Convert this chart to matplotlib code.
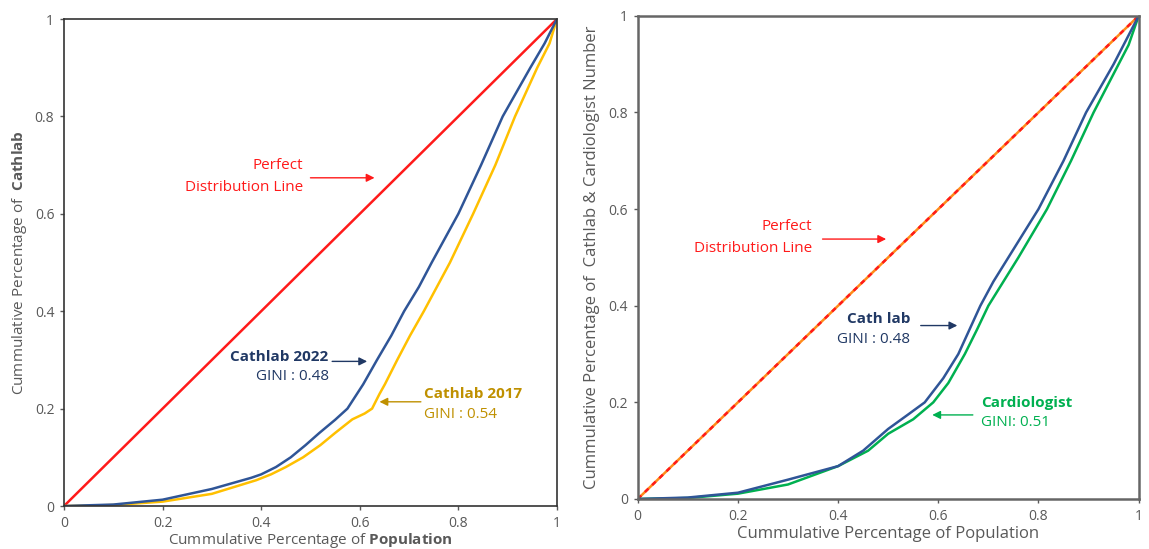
import matplotlib
matplotlib.use("Agg")
import matplotlib.pyplot as plt

plt.rcParams['font.family'] = ['Open Sans', 'DejaVu Sans']
plt.rcParams['mathtext.fontset'] = 'custom'
plt.rcParams['mathtext.bf'] = 'Open Sans:bold'
plt.rcParams['mathtext.rm'] = 'Open Sans'

# left panel: cathlab 2022 vs 2017
pop_22 = [0, 0.1, 0.2, 0.3, 0.38, 0.40, 0.43, 0.46, 0.49, 0.518, 0.55, 0.575, 0.607, 0.635, 0.664, 0.69, 0.72, 0.746, 0.80, 0.846, 0.89, 0.946, 0.975, 1.0]
lab_22 = [0, 0.003, 0.013, 0.035, 0.058, 0.065, 0.08, 0.10, 0.125, 0.15, 0.177, 0.20, 0.25, 0.30, 0.35, 0.40, 0.45, 0.50, 0.60, 0.70, 0.80, 0.90, 0.95, 1.0]
pop_17 = [0, 0.1, 0.2, 0.3, 0.39, 0.42, 0.45, 0.485, 0.52, 0.55, 0.585, 0.61, 0.625, 0.64, 0.651, 0.676, 0.702, 0.73, 0.783, 0.83, 0.875, 0.915, 0.96, 0.985, 1.0]
lab_17 = [0, 0.002, 0.009, 0.025, 0.053, 0.065, 0.08, 0.10, 0.125, 0.15, 0.178, 0.19, 0.20, 0.23, 0.25, 0.30, 0.35, 0.40, 0.50, 0.60, 0.70, 0.80, 0.90, 0.95, 1.0]

# right panel: cath lab vs cardiologist
pop_cl = [0, 0.1, 0.2, 0.3, 0.4, 0.45, 0.5, 0.54, 0.573, 0.61, 0.64, 0.662, 0.684, 0.71, 0.74, 0.80, 0.85, 0.895, 0.95, 0.975, 1.0]
val_cl = [0, 0.003, 0.013, 0.04, 0.068, 0.10, 0.145, 0.175, 0.20, 0.25, 0.30, 0.35, 0.40, 0.45, 0.50, 0.60, 0.70, 0.80, 0.90, 0.95, 1.0]
pop_cd = [0, 0.1, 0.2, 0.3, 0.4, 0.46, 0.5, 0.55, 0.59, 0.62, 0.653, 0.677, 0.70, 0.73, 0.76, 0.817, 0.865, 0.91, 0.95, 0.98, 1.0]
val_cd = [0, 0.002, 0.011, 0.03, 0.068, 0.10, 0.135, 0.165, 0.20, 0.24, 0.30, 0.35, 0.40, 0.45, 0.50, 0.60, 0.70, 0.80, 0.88, 0.94, 1.0]

ticks = [0, 0.2, 0.4, 0.6, 0.8, 1]
tick_labels = ['0', '0.2', '0.4', '0.6', '0.8', '1']

RED = '#ff1a1a'
BLUE = '#2f5597'
NAVY = '#203864'
YEL = '#ffc000'
GOLD = '#bf9000'
GREEN = '#00b050'
GRAY = '#595959'

fig = plt.figure(figsize=(11.49, 5.49), dpi=100)
ax1 = fig.add_axes([0.0557, 0.0783, 0.429, 0.887])
ax2 = fig.add_axes([0.555, 0.0911, 0.436, 0.880])


def style(ax, spine_col, lw):
    ax.set_xlim(0, 1)
    ax.set_ylim(0, 1)
    ax.set_xticks(ticks, tick_labels)
    ax.set_yticks(ticks, tick_labels)
    ax.tick_params(colors=GRAY, labelsize=10, length=3, width=1, pad=4)
    for s in ax.spines.values():
        s.set_color(spine_col)
        s.set_linewidth(lw)


def arrow(ax, x0, x1, y, col):
    ax.annotate('', xy=(x1, y), xytext=(x0, y),
                arrowprops=dict(arrowstyle='-|>', color=col, lw=1.0,
                                mutation_scale=12, shrinkA=0, shrinkB=0))


# ---- left
style(ax1, '#333333', 1.2)
ax1.plot([0, 1], [0, 1], color=RED, lw=1.8)
ax1.plot(pop_17, lab_17, color=YEL, lw=1.8)
ax1.plot(pop_22, lab_22, color=BLUE, lw=1.8)
ax1.set_xlabel(r'Cummulative Percentage of $\bf{Population}$', color=GRAY, fontsize=11, labelpad=0)
ax1.set_ylabel(r'Cummulative Percentage of  $\bf{Cathlab}$', color=GRAY, fontsize=11, labelpad=4)

ax1.text(0.485, 0.70, 'Perfect', color=RED, fontsize=11, ha='right', va='center')
ax1.text(0.485, 0.655, 'Distribution Line', color=RED, fontsize=11, ha='right', va='center')
arrow(ax1, 0.50, 0.63, 0.674, RED)

ax1.text(0.537, 0.307, 'Cathlab 2022', color=NAVY, fontsize=11, fontweight='bold', ha='right', va='center')
ax1.text(0.537, 0.266, 'GINI : 0.48', color=NAVY, fontsize=11, ha='right', va='center')
arrow(ax1, 0.544, 0.615, 0.297, NAVY)

ax1.text(0.73, 0.23, 'Cathlab 2017', color=GOLD, fontsize=11, fontweight='bold', ha='left', va='center')
ax1.text(0.73, 0.188, 'GINI : 0.54', color=GOLD, fontsize=11, ha='left', va='center')
arrow(ax1, 0.724, 0.64, 0.214, GOLD)

# ---- right
style(ax2, '#666666', 1.8)
ax2.plot([0, 1], [0, 1], color='#ff8c1a', lw=1.8)
ax2.plot([0, 1], [0, 1], color=RED, lw=1.8, ls=(0, (2, 2)))
ax2.plot(pop_cd, val_cd, color=GREEN, lw=1.8)
ax2.plot(pop_cl, val_cl, color=BLUE, lw=1.8)
ax2.set_xlabel('Cummulative Percentage of Population', color=GRAY, fontsize=12, labelpad=2)
ax2.set_ylabel('Cummulative Percentage of  Cathlab & Cardiologist Number', color=GRAY, fontsize=12, labelpad=6)

ax2.text(0.348, 0.565, 'Perfect', color=RED, fontsize=11, ha='right', va='center')
ax2.text(0.348, 0.518, 'Distribution Line', color=RED, fontsize=11, ha='right', va='center')
arrow(ax2, 0.369, 0.496, 0.538, RED)

ax2.text(0.544, 0.373, 'Cath lab', color=NAVY, fontsize=11, fontweight='bold', ha='right', va='center')
ax2.text(0.544, 0.331, 'GINI : 0.48', color=NAVY, fontsize=11, ha='right', va='center')
arrow(ax2, 0.565, 0.638, 0.359, NAVY)

ax2.text(0.686, 0.199, 'Cardiologist', color=GREEN, fontsize=11, fontweight='bold', ha='left', va='center')
ax2.text(0.686, 0.158, 'GINI: 0.51', color=GREEN, fontsize=11, ha='left', va='center')
arrow(ax2, 0.669, 0.588, 0.174, GREEN)

fig.savefig('out.png', dpi=100)
